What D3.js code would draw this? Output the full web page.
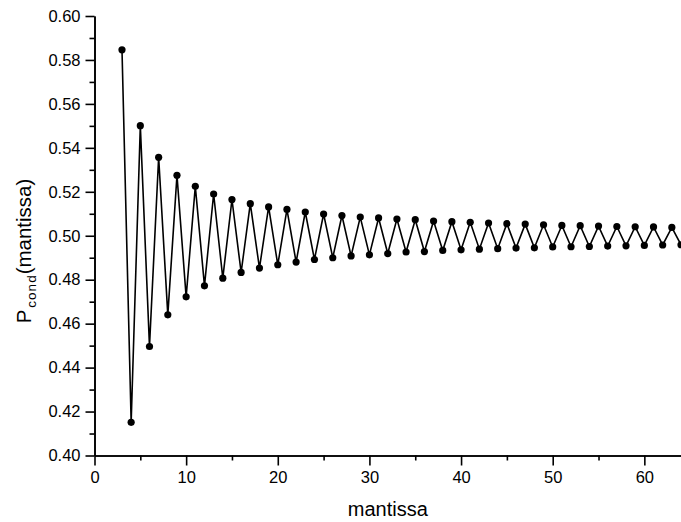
<!DOCTYPE html>
<html>
<head>
<meta charset="utf-8">
<script src="https://cdn.jsdelivr.net/npm/d3@7"></script>
<style>
  body { margin: 0; background: #fff; }
  svg { display: block; font-family: "Liberation Sans", Arial, sans-serif; }
</style>
</head>
<body>
<div id="chart"></div>
<script>
// data
let mantissa = [3, 4, 5, 6, 7, 8, 9, 10, 11, 12, 13, 14, 15, 16, 17, 18, 19, 20, 21, 22,
  23, 24, 25, 26, 27, 28, 29, 30, 31, 32, 33, 34, 35, 36, 37, 38, 39, 40, 41, 42,
  43, 44, 45, 46, 47, 48, 49, 50, 51, 52, 53, 54, 55, 56, 57, 58, 59, 60, 61, 62, 63, 64]
let pcond = [0.5846, 0.4151, 0.5501, 0.4496, 0.5357, 0.4640, 0.5275, 0.4722, 0.5225, 0.4772,
  0.5190, 0.4807, 0.5165, 0.4833, 0.5146, 0.4853, 0.5131, 0.4868, 0.5120, 0.4880,
  0.5108, 0.4892, 0.5099, 0.4900, 0.5092, 0.4908, 0.5085, 0.4913, 0.5081, 0.4919,
  0.5076, 0.4926, 0.5073, 0.4928, 0.5067, 0.4933, 0.5064, 0.4936, 0.5061, 0.4939,
  0.5058, 0.4941, 0.5055, 0.4944, 0.5053, 0.4945, 0.5050, 0.4949, 0.5047, 0.4950,
  0.5046, 0.4951, 0.5044, 0.4953, 0.5042, 0.4954, 0.5041, 0.4956, 0.5040, 0.4958,
  0.5038, 0.4959]
let xTicks = [0, 10, 20, 30, 40, 50, 60]
let yTicks = [0.40, 0.42, 0.44, 0.46, 0.48, 0.50, 0.52, 0.54, 0.56, 0.58, 0.60]

let W = 681, H = 522
let mLeft = 94.5, mRight = 681, mTop = 16, mBottom = 455.5

let svg = d3.select('#chart').append('svg')
    .attr('width', W)
    .attr('height', H)

let x = d3.scaleLinear().domain([0, 64]).range([mLeft, mRight])
let y = d3.scaleLinear().domain([0.40, 0.60]).range([mBottom, mTop])

// minor ticks
let xMinor = d3.range(5, 64, 10)
let yMinor = d3.range(0.41, 0.60, 0.02)

svg.append('g')
    .attr('transform', `translate(0,${mBottom})`)
    .call(d3.axisBottom(x).tickValues(xTicks).tickSize(10).tickPadding(6).tickSizeOuter(0))
svg.append('g')
    .attr('transform', `translate(0,${mBottom})`)
    .call(d3.axisBottom(x).tickValues(xMinor).tickSize(5).tickFormat('').tickSizeOuter(0))

svg.append('g')
    .attr('transform', `translate(${mLeft},0)`)
    .call(d3.axisLeft(y).tickValues(yTicks).tickSize(9).tickPadding(5).tickFormat(d3.format('.2f')).tickSizeOuter(0))
svg.append('g')
    .attr('transform', `translate(${mLeft},0)`)
    .call(d3.axisLeft(y).tickValues(yMinor).tickSize(5).tickFormat('').tickSizeOuter(0))

svg.selectAll('.domain, .tick line')
    .attr('stroke', '#000')
    .attr('stroke-width', 1.6)
svg.selectAll('.tick text')
    .attr('fill', '#000')
    .style('font-size', '16.5px')

// line + dots
let pts = mantissa.map((m, i) => [m, pcond[i]])
let line = d3.line().x(d => x(d[0])).y(d => y(d[1]))

svg.append('path')
    .datum(pts)
    .attr('d', line)
    .attr('fill', 'none')
    .attr('stroke', '#000')
    .attr('stroke-width', 1.6)

svg.selectAll('circle.pt')
    .data(pts)
    .enter().append('circle')
    .attr('class', 'pt')
    .attr('cx', d => x(d[0]))
    .attr('cy', d => y(d[1]))
    .attr('r', 3.6)
    .attr('fill', '#000')

// titles
svg.append('text')
    .attr('x', (mLeft + mRight) / 2)
    .attr('y', 516)
    .attr('text-anchor', 'middle')
    .style('font-size', '20px')
    .text('mantissa')

let yt = svg.append('text')
    .attr('transform', `translate(31,251) rotate(-90)`)
    .attr('text-anchor', 'middle')
    .style('font-size', '20.5px')
yt.append('tspan').text('P')
yt.append('tspan').attr('dx', 2).attr('dy', 5).style('font-size', '13.5px').style('letter-spacing', '1px').text('cond')
yt.append('tspan').attr('dy', -5).text('(mantissa)')
</script>
</body>
</html>
